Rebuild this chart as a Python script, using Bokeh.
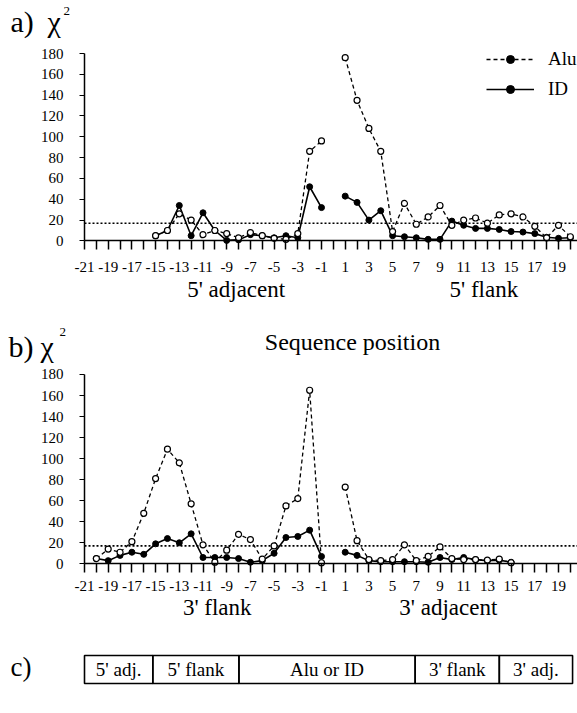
from bokeh.plotting import figure
from bokeh.models import (Range1d, FixedTicker, LinearAxis, Label, Legend, LegendItem)
from bokeh.layouts import column
from bokeh.embed import file_html
from bokeh.resources import INLINE
from bokeh.core.properties import value

SERIF = "Liberation Serif"
NAN = float("nan")

# ---------------- data ----------------
# panel a: 5' side (adjacent -> flank)
pos_a_up = [-15, -14, -13, -12, -11, -10, -9, -8, -7, -6, -5, -4, -3, -2, -1]
alu_a_up = [5, 10, 26, 20, 6, 10, 7, 3, 8, 5, 2.5, 1.5, 7, 86, 96]
id_a_up = [5, 10, 34, 5, 27, 10, 0.5, 1, 6, 5, 3, 5, 3, 52, 32]
pos_a_down = [1, 2, 3, 4, 5, 6, 7, 8, 9, 10, 11, 12, 13, 14, 15, 16, 17, 18, 19, 20]
alu_a_down = [176, 135, 108, 86, 9, 36, 16, 23, 34, 15, 20, 22, 17, 25, 26, 23, 14, 3, 15, 4]
id_a_down = [43, 37, 20, 29, 5, 4, 3, 1.5, 1.5, 19, 15, 12, 12, 11, 9, 8.5, 7, 3.5, 2.5, 3]

# panel b: 3' side (flank -> adjacent)
pos_b_up = [-20, -19, -18, -17, -16, -15, -14, -13, -12, -11, -10, -9, -8, -7, -6, -5, -4, -3, -2, -1]
alu_b_up = [5, 14, 11, 21, 48, 81, 109, 96, 57, 18, 1.5, 13, 28, 23, 4.5, 17, 55, 62, 165, 1]
id_b_up = [5, 3, 8, 11, 9, 19, 24, 20, 28.5, 6, 6, 6, 5, 1.5, 3, 10, 25, 26, 32, 7]
pos_b_down = [1, 2, 3, 4, 5, 6, 7, 8, 9, 10, 11, 12, 13, 14, 15]
alu_b_down = [73, 22, 4, 3, 4, 18, 3, 7, 16, 5, 4, 4, 3.5, 4.5, 1]
id_b_down = [11, 8, 3, 2, 2, 2, 2, 1.5, 6, 4, 6, 4, 3, 3.5, 1.5]

threshold = 17
x_major = [-21, -19, -17, -15, -13, -11, -9, -7, -5, -3, -1, 1, 3, 5, 7, 9, 11, 13, 15, 17, 19]
x_minor = [-20, -18, -16, -14, -12, -10, -8, -6, -4, -2, 0, 2, 4, 6, 8, 10, 12, 14, 16, 18, 20]
y_ticks = [0, 20, 40, 60, 80, 100, 120, 140, 160, 180]

sections_a = ["5' adjacent", "5' flank"]
sections_a_pos = [-8.2, 12.7]
sections_b = ["3' flank", "3' adjacent"]
sections_b_pos = [-9.8, 9.7]

seg_names = ["5' adj.", "5' flank", "Alu or ID", "3' flank", "3' adj."]
seg_widths = [69, 87, 178, 85, 74]

# ---------------- layout constants ----------------
W = 577          # figure width
X0 = 84          # pixel (in figure) of position -21
SX = 11.85       # pixels per sequence position
X_START = -21 - X0 / SX
X_END = -21 + (W - X0) / SX


def panel(height, y0px, sy, pos_up, alu_up, id_up, pos_down, alu_down, id_down,
          sec_labels, sec_pos, tick_standoff, sec_standoff):
    y_range = Range1d(-(height - y0px) / sy, y0px / sy)
    p = figure(width=W, height=height, x_range=Range1d(X_START, X_END), y_range=y_range,
               output_backend="svg", toolbar_location=None,
               min_border_left=0, min_border_right=0, min_border_top=0, min_border_bottom=0)
    p.grid.visible = False
    p.outline_line_color = None

    xa = p.xaxis[0]
    xa.ticker = FixedTicker(ticks=x_major, minor_ticks=x_minor)
    xa.major_label_overrides = {t: str(t) for t in x_major}
    xa.fixed_location = 0
    xa.bounds = (x_major[0], X_END)
    xa.major_tick_out = 9
    xa.major_tick_in = 0
    xa.minor_tick_out = 9
    xa.minor_tick_in = 0
    xa.major_tick_line_width = 1.5
    xa.minor_tick_line_width = 1.5
    xa.axis_line_width = 1.6
    xa.axis_line_color = "black"
    xa.major_tick_line_color = "black"
    xa.minor_tick_line_color = "black"
    xa.major_label_text_font = SERIF
    xa.major_label_text_font_size = "15px"
    xa.major_label_text_color = "black"
    xa.major_label_standoff = tick_standoff

    ya = p.yaxis[0]
    ya.ticker = FixedTicker(ticks=y_ticks)
    ya.fixed_location = x_major[0]
    ya.bounds = (y_ticks[0], y_ticks[-1])
    ya.major_tick_out = 5
    ya.major_tick_in = 0
    ya.minor_tick_line_color = None
    ya.axis_line_width = 1.5
    ya.axis_line_color = "black"
    ya.major_tick_line_color = "black"
    ya.major_label_text_font = SERIF
    ya.major_label_text_font_size = "15px"
    ya.major_label_text_color = "black"
    ya.major_label_standoff = 16

    sec = LinearAxis(ticker=FixedTicker(ticks=sec_pos), fixed_location=0,
                     major_label_overrides={v: t for v, t in zip(sec_pos, sec_labels)})
    sec.axis_line_color = None
    sec.major_tick_line_color = None
    sec.minor_tick_line_color = None
    sec.major_tick_out = 0
    sec.major_tick_in = 0
    sec.minor_tick_out = 0
    sec.minor_tick_in = 0
    sec.major_label_text_font = SERIF
    sec.major_label_text_font_size = "23px"
    sec.major_label_text_color = "black"
    sec.major_label_standoff = sec_standoff
    p.add_layout(sec, "below")

    # significance threshold
    p.line([x_major[0], X_END], [threshold, threshold], line_color="black",
           line_dash="2 2", line_width=1.6)

    lines = {}
    for xs, ys in ((pos_up, id_up), (pos_down, id_down)):
        lines.setdefault("id", p.line(xs, ys, line_color="black", line_width=1.6))
    for xs, ys in ((pos_up, alu_up), (pos_down, alu_down)):
        lines.setdefault("alu", p.line(xs, ys, line_color="black", line_width=1.3,
                                       line_dash="4 3"))
    p.scatter(pos_up + pos_down, id_up + id_down, marker="circle", size=6,
              fill_color="black", line_color="black")
    p.scatter(pos_up + pos_down, alu_up + alu_down, marker="circle", size=6,
              fill_color="white", line_color="black", line_width=1.2)
    return p, lines


def lab(p, x, y, text, size, align="left"):
    p.add_layout(Label(x=x, y=y, x_units="screen", y_units="screen", text=text,
                       text_font=SERIF, text_font_size=size, text_color="black",
                       text_align=align, text_baseline="alphabetic"))


# ---------- panel a ----------
HA = 318
pa, la = panel(HA, 240.4, 1.041, pos_a_up, alu_a_up, id_a_up, pos_a_down, alu_a_down,
               id_a_down, sections_a, sections_a_pos, 12, 36)
dot1 = pa.scatter([NAN], [NAN], marker="circle", size=5, fill_color="black", line_color="black")
dot2 = pa.scatter([NAN], [NAN], marker="circle", size=5, fill_color="black", line_color="black")
leg = Legend(items=[LegendItem(label=value("Alu"), renderers=[la["alu"], dot1]),
                    LegendItem(label=value("ID"), renderers=[la["id"], dot2])],
             location=(486, 218), border_line_color=None, background_fill_alpha=0,
             label_text_font=SERIF, label_text_font_size="19px", label_text_color="black",
             glyph_width=48, glyph_height=20, label_height=20, spacing=8,
             padding=0, margin=0, label_standoff=14)
pa.add_layout(leg)

lab(pa, 10, 297, "a)", "30px")
lab(pa, 47, 297, "\u03c7", "30px")
lab(pa, 63, 308, "2", "13px")

# ---------- panel b ----------
HB = 312
pb, lb = panel(HB, 245.3, 1.0517, pos_b_up, alu_b_up, id_b_up, pos_b_down, alu_b_down,
               id_b_down, sections_b, sections_b_pos, 8, 31)
lab(pb, 8, 284, "b)", "30px")
lab(pb, 40, 284, "\u03c7", "30px")
lab(pb, 59, 299, "2", "13px")
lab(pb, 352, 289, "Sequence position", "24px", "center")

# ---------- panel c ----------
HC = 83
KX = 0.99  # pixels per segment-width unit
lefts, rights = [], []
acc = 0
for w in seg_widths:
    lefts.append(acc)
    acc += w
    rights.append(acc)
centers = [(l + r) / 2 for l, r in zip(lefts, rights)]

pc = figure(width=W, height=HC, x_range=Range1d(-X0 / KX, (W - X0) / KX),
            y_range=Range1d(-30 / 28, 1 + 25 / 28),
            output_backend="svg", toolbar_location=None,
            x_axis_location=None, y_axis_location=None,
            min_border_left=0, min_border_right=0, min_border_top=0, min_border_bottom=0)
pc.grid.visible = False
pc.outline_line_color = None
pc.quad(left=lefts, right=rights, bottom=[0] * len(lefts), top=[1] * len(lefts),
        fill_color=None, line_color="black", line_width=1.6)
pc.text(x=centers, y=[0.5] * len(centers), text=seg_names, text_align="center",
        text_baseline="middle", text_font=value(SERIF), text_font_size="19px",
        text_color="black")
lab(pc, 10, 47, "c)", "27px")

layout = column(pa, pb, pc, spacing=0)
open("out.html", "w").write(file_html(layout, INLINE))
